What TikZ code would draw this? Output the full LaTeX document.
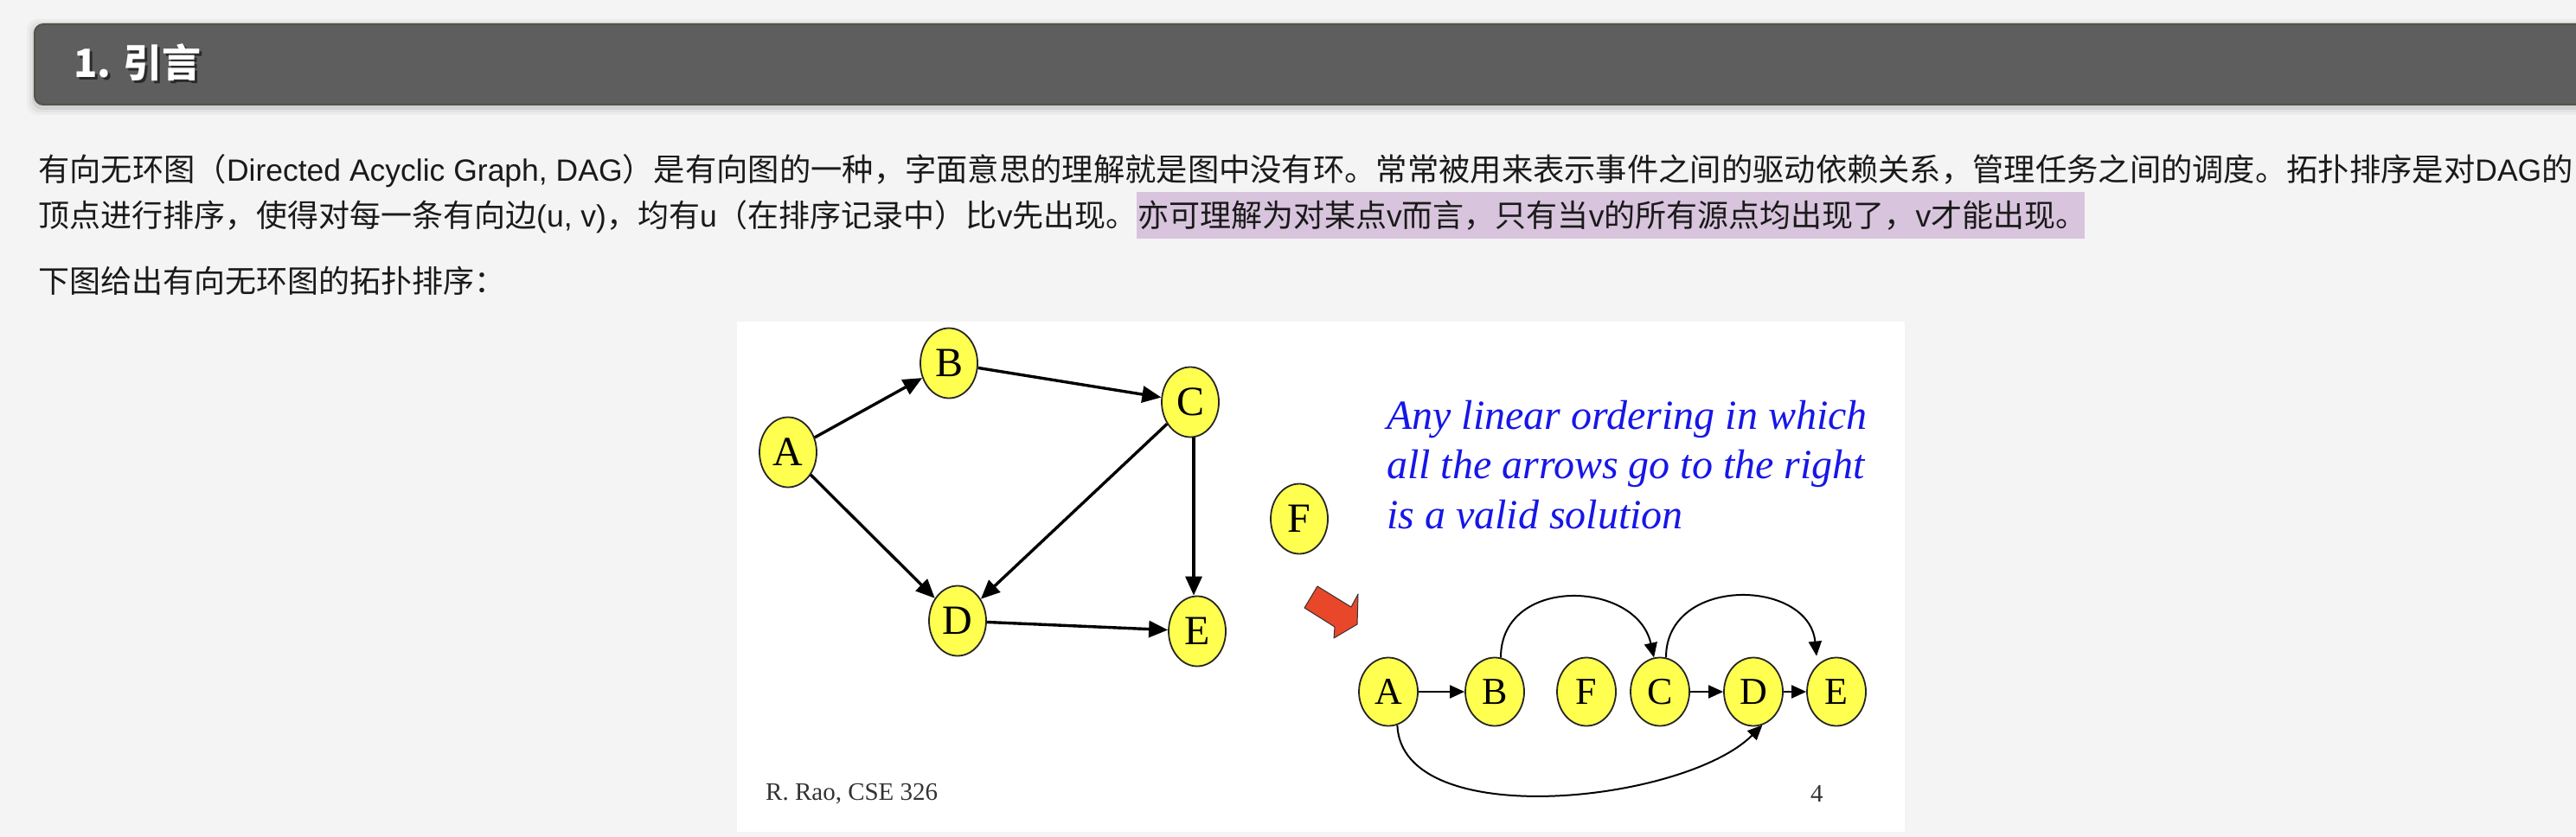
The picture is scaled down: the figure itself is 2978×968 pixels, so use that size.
\documentclass[tikz,border=0pt]{standalone}
\usepackage{fontspec}
\usetikzlibrary{shapes.geometric,arrows.meta,calc}
\newfontfamily\cjk{Noto Sans CJK SC}
\newfontfamily\lat{Liberation Sans}
\newfontfamily\slidefont{Liberation Serif}
\definecolor{pagebg}{HTML}{F4F4F4}
\definecolor{barfill}{HTML}{5E5E5E}
\definecolor{barline}{HTML}{55524A}
\definecolor{hl}{HTML}{D8C5DD}
\definecolor{nodey}{HTML}{FFFF50}
\definecolor{slideblue}{RGB}{22,22,232}
\definecolor{redarrow}{HTML}{E8472A}
\definecolor{txt}{HTML}{1A1A1A}
\newcommand\la[1]{{\lat\fontsize{35.5}{40}\selectfont #1}}
\begin{document}
\begin{tikzpicture}[x=1pt,y=-1pt,
  body/.style={anchor=base west, inner sep=0, font=\cjk\fontsize{36}{40}\selectfont, text=txt},
  gnode/.style={ellipse, draw=black!85, line width=1.8pt, fill=nodey, minimum width=66pt, minimum height=81pt, inner sep=0, font=\slidefont\fontsize{48}{48}\selectfont},
  snode/.style={gnode, minimum width=68pt, minimum height=79pt, font=\slidefont\fontsize{44}{44}\selectfont},
  garrow/.style={line width=3.4pt, -{Triangle[length=22pt,width=19pt]}},
  sarrow/.style={line width=2pt, -{Triangle[length=17pt,width=15pt]}},
  bluetext/.style={anchor=base west, inner sep=0, text=slideblue, font=\slidefont\itshape\fontsize{48}{57}\selectfont},
  smalltext/.style={anchor=base west, inner sep=0, text=black!80, font=\slidefont\fontsize{29}{30}\selectfont},
]
\clip (0,0) rectangle (2978,968);
\fill[pagebg] (0,0) rectangle (2978,968);
% header bar
\foreach \d/\o in {9/0.03,6/0.04,3/0.07}
  \fill[black,opacity=\o,rounded corners=12pt] (40-\d,28-\d+3) rectangle (3010,121+\d+3);
\draw[barline, fill=barfill, line width=2pt, rounded corners=10pt] (40,28) rectangle (3010,121);
\node[anchor=base west, inner sep=0, text=black, opacity=0.55, font=\cjk\bfseries\fontsize{45}{45}\selectfont] (titleshadow) at (88,93) {1. 引言};
\node[anchor=base west, inner sep=0, text=white, font=\cjk\bfseries\fontsize{45}{45}\selectfont] (title) at (85,90) {1. 引言};
% paragraph
\node[body, font=\cjk\fontsize{36.3}{40}\selectfont] (l1) at (44,210) {有向无环图（\la{Directed Acyclic Graph, DAG}）是有向图的一种，字面意思的理解就是图中没有环。常常被用来表示事件之间的驱动依赖关系，管理任务之间的调度。拓扑排序是对\la{DAG}的};
\fill[hl] (1314,222) rectangle (2410,276);
\node[body] (l2a) at (44,263) {顶点进行排序，使得对每一条有向边\la{(u, v)}，均有\la{u}（在排序记录中）比\la{v}先出现。};
\node[body] (l2b) at (1315,263) {亦可理解为对某点\la{v}而言，只有当\la{v}的所有源点均出现了，\la{v}才能出现。};
\node[body] (l3) at (44,338) {下图给出有向无环图的拓扑排序：};
% slide
\fill[white] (852,372) rectangle (2202,962);
\node[gnode] (A) at (911,523) {A};
\node[gnode] (B) at (1097,420) {B};
\node[gnode] (C) at (1376,465) {C};
\node[gnode] (D) at (1107,718) {D};
\node[gnode] (E) at (1384,730) {E};
\node[gnode] (F) at (1502,600) {F};
\draw[garrow] (A) -- (B);
\draw[garrow] (B) -- (C);
\draw[garrow] (C) -- (D);
\draw[garrow] ($(C.south)+(4,0)$) -- ($(E.north)+(-4,0)$);
\draw[garrow] (A) -- (D);
\draw[garrow] (D) -- (E);
\node[bluetext] (t1) at (1603,496) {Any linear ordering in which};
\node[bluetext] (t2) at (1603,553) {all the arrows go to the right};
\node[bluetext] (t3) at (1603,611) {is a valid solution};
\filldraw[fill=redarrow, draw=black!80, line width=1pt, line join=round] (1523,678) -- (1562,702) -- (1570,687) -- (1569,722) -- (1542,738) -- (1543,725) -- (1508,703) -- cycle;
\node[snode] (a2) at (1605,800) {A};
\node[snode] (b2) at (1728,800) {B};
\node[snode] (f2) at (1834,800) {F};
\node[snode] (c2) at (1919,800) {C};
\node[snode] (d2) at (2027,800) {D};
\node[snode] (e2) at (2123,800) {E};
\draw[sarrow] (a2) -- (b2);
\draw[sarrow] (c2) -- (d2);
\draw[sarrow] (d2) -- (e2);
\draw[sarrow] (b2.80) .. controls +(0,-95) and +(-20,-90) .. (c2.100);
\draw[sarrow, shorten >=10pt] (c2.80) .. controls +(0,-95) and +(-10,-100) .. (e2.125);
\draw[sarrow] (a2.-75) .. controls +(5,125) and +(-90,90) .. (d2.-75);
\node[smalltext] (rao) at (885,925) {R. Rao, CSE 326};
\node[smalltext] (pg) at (2093,927) {4};
\end{tikzpicture}
\end{document}
